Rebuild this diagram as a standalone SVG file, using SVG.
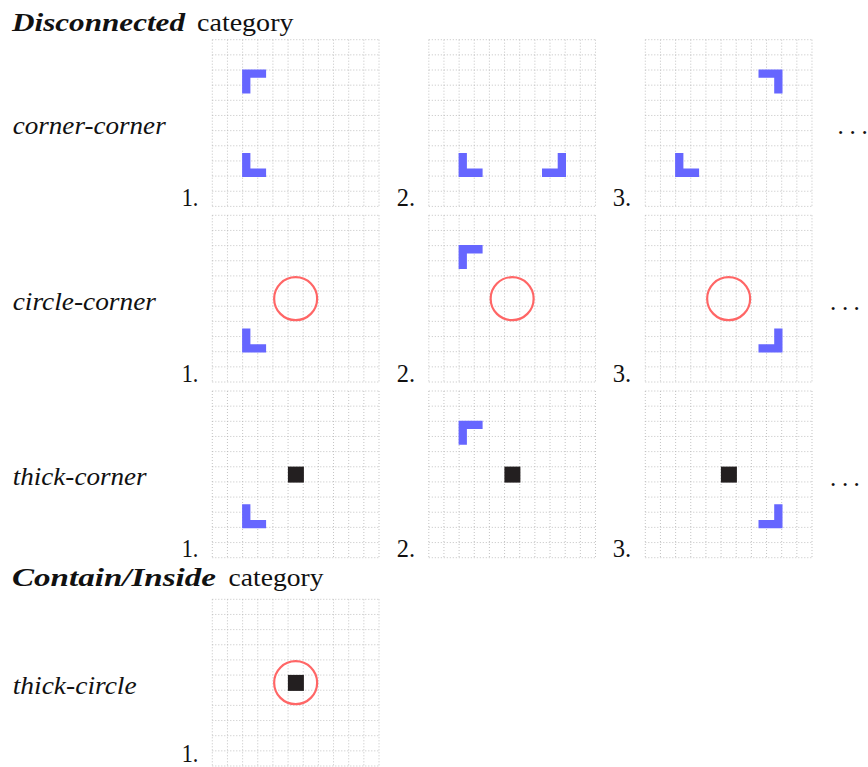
<svg xmlns="http://www.w3.org/2000/svg" width="868" height="767" viewBox="0 0 868 767">
<style>
.g{fill:none;stroke:#b4b4b4;stroke-width:0.8;stroke-dasharray:1 2}
.bc{fill:#6666ff}
.cir{fill:none;stroke:#ff6666;stroke-width:2.2}
.sq{fill:#231f20}
.t{font-family:'Liberation Serif','Tinos','Times New Roman','DejaVu Serif','Noto Serif',serif;font-size:26px;fill:#111}
.bi{font-weight:bold;font-style:italic}
.it{font-style:italic}
</style>
<defs>
<path id="grid" class="g" d="M0,0V166.7M15.15,0V166.7M30.31,0V166.7M45.46,0V166.7M60.62,0V166.7M75.77,0V166.7M90.93,0V166.7M106.08,0V166.7M121.24,0V166.7M136.39,0V166.7M151.55,0V166.7M166.7,0V166.7M0,0H166.7M0,15.15H166.7M0,30.31H166.7M0,45.46H166.7M0,60.62H166.7M0,75.77H166.7M0,90.93H166.7M0,106.08H166.7M0,121.24H166.7M0,136.39H166.7M0,151.55H166.7M0,166.7H166.7"/>
<path id="cTL" class="bc" d="M0,0H24V8.3H8.3V24H0Z"/>
<path id="cBL" class="bc" d="M0,0H8.3V15.7H24V24H0Z"/>
<path id="cBR" class="bc" d="M15.7,0H24V24H0V15.7H15.7Z"/>
<path id="cTR" class="bc" d="M0,0H24V24H15.7V8.3H0Z"/>
</defs>

<g id="titles" class="t" font-family="Liberation Serif, DejaVu Serif, serif">
<text class="bi" x="12" y="31" textLength="173" lengthAdjust="spacingAndGlyphs">Disconnected</text>
<text x="197" y="31" textLength="96.5" lengthAdjust="spacingAndGlyphs">category</text>
<text class="bi" x="12" y="586" textLength="204" lengthAdjust="spacingAndGlyphs">Contain/Inside</text>
<text x="228.5" y="586" textLength="95" lengthAdjust="spacingAndGlyphs">category</text>
</g>

<g id="row-labels" class="t" font-family="Liberation Serif, DejaVu Serif, serif">
<text class="it" x="12.7" y="133.5" textLength="153" lengthAdjust="spacingAndGlyphs">corner-corner</text>
<text class="it" x="12.7" y="310" textLength="143.3" lengthAdjust="spacingAndGlyphs">circle-corner</text>
<text class="it" x="12.7" y="485" textLength="134" lengthAdjust="spacingAndGlyphs">thick-corner</text>
<text class="it" x="12.7" y="694" textLength="124" lengthAdjust="spacingAndGlyphs">thick-circle</text>
</g>

<g id="r1p1" transform="translate(212.3,39.7)"><use href="#grid"/><use href="#cTL" x="29.8" y="29.8"/><use href="#cBL" x="29.8" y="113.2"/></g>
<g id="r1p2" transform="translate(428.8,39.7)"><use href="#grid"/><use href="#cBL" x="29.8" y="113.2"/><use href="#cBR" x="113.2" y="113.2"/></g>
<g id="r1p3" transform="translate(645.3,39.7)"><use href="#grid"/><use href="#cTR" x="113.2" y="29.8"/><use href="#cBL" x="29.8" y="113.2"/></g>

<g id="r2p1" transform="translate(212.3,215.3)"><use href="#grid"/><circle class="cir" cx="83.35" cy="83.35" r="21.5"/><use href="#cBL" x="29.8" y="113.2"/></g>
<g id="r2p2" transform="translate(428.8,215.3)"><use href="#grid"/><use href="#cTL" x="29.8" y="29.8"/><circle class="cir" cx="83.35" cy="83.35" r="21.5"/></g>
<g id="r2p3" transform="translate(645.3,215.3)"><use href="#grid"/><circle class="cir" cx="83.35" cy="83.35" r="21.5"/><use href="#cBR" x="113.2" y="113.2"/></g>

<g id="r3p1" transform="translate(212.3,391)"><use href="#grid"/><rect class="sq" x="75.6" y="75.6" width="16" height="16"/><use href="#cBL" x="29.8" y="113.2"/></g>
<g id="r3p2" transform="translate(428.8,391)"><use href="#grid"/><use href="#cTL" x="29.8" y="29.8"/><rect class="sq" x="75.6" y="75.6" width="16" height="16"/></g>
<g id="r3p3" transform="translate(645.3,391)"><use href="#grid"/><rect class="sq" x="75.6" y="75.6" width="16" height="16"/><use href="#cBR" x="113.2" y="113.2"/></g>

<g id="r4p1" transform="translate(212.3,599.3)"><use href="#grid"/><circle class="cir" cx="83.35" cy="83.35" r="21.5"/><rect class="sq" x="75.6" y="75.6" width="16" height="16"/></g>

<g id="numbers" class="t" font-family="Liberation Serif, DejaVu Serif, serif">
<text x="181.7" y="206" textLength="16.6" lengthAdjust="spacingAndGlyphs">1.</text>
<text x="396.7" y="206" textLength="18.3" lengthAdjust="spacingAndGlyphs">2.</text>
<text x="612.7" y="206" textLength="18.5" lengthAdjust="spacingAndGlyphs">3.</text>
<text x="181.7" y="382" textLength="16.6" lengthAdjust="spacingAndGlyphs">1.</text>
<text x="396.7" y="382" textLength="18.3" lengthAdjust="spacingAndGlyphs">2.</text>
<text x="612.7" y="382" textLength="18.5" lengthAdjust="spacingAndGlyphs">3.</text>
<text x="181.7" y="557" textLength="16.6" lengthAdjust="spacingAndGlyphs">1.</text>
<text x="396.7" y="557" textLength="18.3" lengthAdjust="spacingAndGlyphs">2.</text>
<text x="612.7" y="557" textLength="18.5" lengthAdjust="spacingAndGlyphs">3.</text>
<text x="181.7" y="762" textLength="16.6" lengthAdjust="spacingAndGlyphs">1.</text>
</g>

<g id="ellipses" class="t" font-family="Liberation Serif, DejaVu Serif, serif" font-size="25">
<text x="837.5 849.5 861.5" y="134" style="font-size:25px">...</text>
<text x="829.9 841.9 853.6" y="310" style="font-size:25px">...</text>
<text x="829.9 841.9 853.6" y="486" style="font-size:25px">...</text>
</g>

<g id="connectors"></g>
</svg>
